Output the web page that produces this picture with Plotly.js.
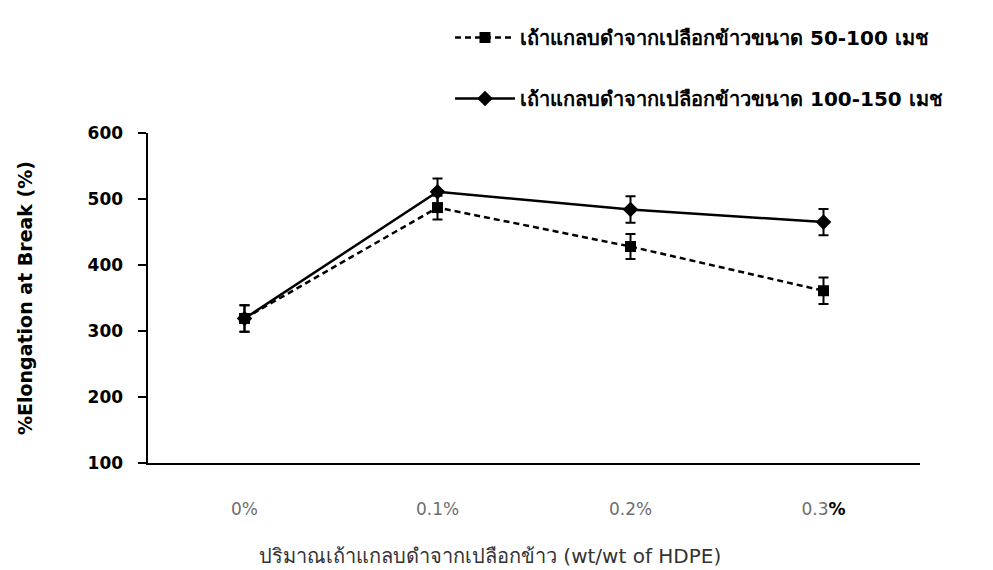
<!DOCTYPE html>
<html>
<head>
<meta charset="utf-8">
<script src="https://cdn.plot.ly/plotly-3.0.1.min.js"></script>
<style>
  html, body { margin: 0; padding: 0; background: #fff; }
  #chart { width: 993px; height: 570px; }
</style>
</head>
<body>
<div id="chart"></div>
<script>
// Rice-husk black ash loading (wt/wt of HDPE)
const loadings = ['0%', '0.1%', '0.2%', '0.3<span style="font-weight:bold;color:#000">%</span>'];

// %Elongation at break, ash particle size 50-100 mesh
const elong50100 = [319, 487, 428, 361];
const err50100 = [20, 18, 19, 20];

// %Elongation at break, ash particle size 100-150 mesh
const elong100150 = [319, 511, 484, 465];
const err100150 = [20, 20, 20, 20];

const seriesNames = [
  'เถ้าแกลบดำจากเปลือกข้าวขนาด 50-100 เมช',
  'เถ้าแกลบดำจากเปลือกข้าวขนาด 100-150 เมช'
];

const yTicks = [100, 200, 300, 400, 500, 600];
const xTitle = 'ปริมาณเถ้าแกลบดำจากเปลือกข้าว (wt/wt of HDPE)';
const yTitle = '%Elongation at Break (%)';

const FONT = 'Tahoma, "DejaVu Sans", "Noto Sans", sans-serif';
const xIdx = loadings.map((_, i) => i);

const traces = [
  {
    x: xIdx, y: elong100150, name: seriesNames[1],
    type: 'scatter', mode: 'lines+markers', legendgroup: 'b', legendrank: 2,
    line: { color: '#000', width: 2.5, dash: 'solid' },
    marker: { symbol: 'diamond', size: 12, color: '#000' },
    error_y: { type: 'data', array: err100150, visible: true, color: '#000', thickness: 2, width: 5 }
  },
  {
    x: xIdx, y: elong50100, name: seriesNames[0],
    type: 'scatter', mode: 'lines+markers', legendgroup: 'a', legendrank: 1,
    line: { color: '#000', width: 2.5, dash: '6px,4px' },
    marker: { symbol: 'square', size: 11, color: '#000' },
    error_y: { type: 'data', array: err50100, visible: true, color: '#000', thickness: 2, width: 5 }
  }
];

const layout = {
  width: 993, height: 570,
  margin: { l: 148, r: 73, t: 133, b: 107, autoexpand: false },
  paper_bgcolor: '#fff', plot_bgcolor: '#fff',
  font: { family: FONT, color: '#000' },
  showlegend: true,
  legend: {
    x: (450 - 148) / 772, xanchor: 'left', y: (463 - 18) / 330, yanchor: 'top',
    traceorder: 'grouped', tracegroupgap: 32,
    itemwidth: 60,
    font: { family: FONT, size: 20, color: '#000', weight: 'bold' },
    bgcolor: 'rgba(0,0,0,0)'
  },
  xaxis: {
    range: [-0.5, 3.5],
    tickvals: xIdx, ticktext: loadings,
    showgrid: false, zeroline: false,
    showline: true, linecolor: '#000', linewidth: 2,
    ticks: '', ticklabelstandoff: 30,
    tickfont: { family: FONT, size: 17, color: '#6e6e6e' }
  },
  yaxis: {
    range: [100, 600],
    tickvals: yTicks,
    showgrid: false, zeroline: false,
    showline: true, linecolor: '#000', linewidth: 2.5,
    ticks: 'outside', ticklen: 8, tickwidth: 2, tickcolor: '#000',
    ticklabelstandoff: 11,
    tickfont: { family: FONT, size: 17, color: '#000', weight: 'bold' },
    title: { text: yTitle, standoff: 50, font: { family: FONT, size: 19, color: '#000', weight: 'bold' } }
  },
  annotations: [
    {
      text: xTitle, xref: 'paper', yref: 'paper',
      x: (490 - 148) / 772, y: (463 - 556) / 330, xanchor: 'center', yanchor: 'middle',
      showarrow: false,
      font: { family: FONT, size: 20, color: '#333' }
    }
  ]
};

Plotly.newPlot('chart', traces, layout, { displayModeBar: false, staticPlot: true });
</script>
</body>
</html>
